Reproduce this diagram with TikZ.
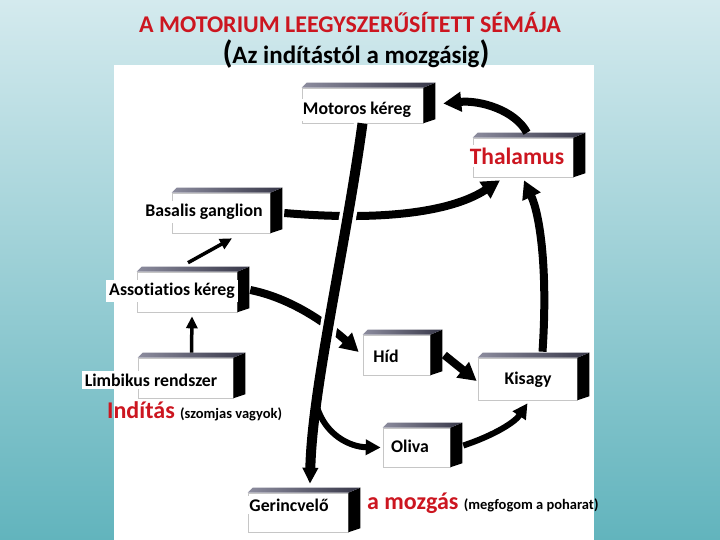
\documentclass[tikz,border=0pt]{standalone}
\usepackage{fontspec}
\setmainfont{Carlito}[Ligatures=NoCommon]
\usetikzlibrary{arrows.meta,calc}
\definecolor{bgtop}{RGB}{212,234,238}
\definecolor{bgbot}{RGB}{98,180,189}
\definecolor{tred}{RGB}{204,22,32}
\definecolor{topdark}{RGB}{55,55,72}
\definecolor{toplight}{RGB}{140,140,158}
\newcommand\boxfaces[1]{%
  \fill[black] (#1.north east) -- ++(12,-5) -- ($(#1.south east)+(12,-4)$) -- (#1.south east) -- cycle;
  \shade[left color=toplight, right color=topdark] (#1.north west) -- ($(#1.north west)+(5,-5)$) -- ($(#1.north east)+(12,-5)$) -- (#1.north east) -- cycle;
}
\tikzset{
  front/.style={draw=gray!45, line width=0.6pt, fill=white, inner sep=0pt},
  lab/.style={fill=white, inner sep=3pt, text=black, font=\fontsize{17.8}{20}\selectfont\bfseries},
  fatarrow/.style={line width=8pt, -{Triangle[length=18pt,width=19pt]}},
  midarrow/.style={line width=6pt, -{Triangle[length=15pt,width=15pt]}},
  thinarrow/.style={line width=3.5pt, -{Triangle[length=12pt,width=11pt]}},
}
\begin{document}
\begin{tikzpicture}[x=1pt,y=-1pt]
\useasboundingbox (0,0) rectangle (720,540);
\shade[top color=bgtop, bottom color=bgbot] (0,0) rectangle (720,540);
\fill[white] (114,65) rectangle (594,540);

% titles
\node[anchor=base, text=tred, font=\fontsize{24}{28}\selectfont\bfseries] (title) at (350,33) {A MOTORIUM LEEGYSZERŰSÍTETT SÉMÁJA};
\node[anchor=base, font=\fontsize{25}{29}\selectfont\bfseries] (sub) at (356,64) {{\fontsize{32}{32}\selectfont(}Az indítástól a mozgásig{\fontsize{32}{32}\selectfont)}};

% boxes (front faces)
\node[front, minimum width=121, minimum height=35] (mk) at (362.5,105.5) {};
\node[front, minimum width=100, minimum height=39] (thal) at (523,157.5) {};
\node[front, minimum width=98, minimum height=40] (bg) at (221,213) {};
\node[front, minimum width=100, minimum height=40] (as) at (187,292) {};
\node[front, minimum width=95, minimum height=40] (lb) at (185.5,378) {};
\node[front, minimum width=67, minimum height=40] (hid) at (396.5,355) {};
\node[front, minimum width=99, minimum height=42] (kis) at (527.5,379) {};
\node[front, minimum width=67, minimum height=39] (ol) at (416.5,447.5) {};
\node[front, minimum width=100, minimum height=39] (gv) at (298,512.5) {};
\boxfaces{mk}\boxfaces{thal}\boxfaces{bg}\boxfaces{as}\boxfaces{lb}
\boxfaces{hid}\boxfaces{kis}\boxfaces{ol}\boxfaces{gv}

% labels
\node[lab] (mkt) at (357,110) {Motoros kéreg};
\node[lab, text=tred, font=\fontsize{23.5}{26}\selectfont\bfseries] (thalt) at (517,156) {Thalamus};
\node[lab] (bgt) at (204,212) {Basalis ganglion};
\node[lab] (ast) at (172,291) {Assotiatios kéreg};
\node[lab] (lbt) at (151,380) {Limbikus rendszer};
\node[lab] (hidt) at (386,356) {Híd};
\node[lab] (kist) at (528,380) {Kisagy};
\node[lab] (olt) at (410,446) {Oliva};
\node[lab] (gvt) at (289,505) {Gerincvelő};

\node[anchor=base west, text=tred, font=\fontsize{24}{28}\selectfont\bfseries, inner sep=0pt] (ind) at (107,418) {Indítás {\fontsize{14.5}{16}\selectfont\color{black}(szomjas vagyok)}};
\node[anchor=base west, text=tred, font=\fontsize{24}{28}\selectfont\bfseries, inner sep=0pt] (moz) at (367,509) {a mozgás {\fontsize{14.5}{16}\selectfont\color{black}(megfogom a poharat)}};

% arrows
\draw[fatarrow] ($(thal.north)+(4,-5)$) .. controls (515,110) and (480,100) .. ($(mk.east)+(20,-2)$);
\draw[fatarrow] ($(bg.east)+(14,0)$) .. controls (390,222) and (455,210) .. ($(thal.south)+(-23,3)$);
\draw[fatarrow] ($(kis.north)+(15,-6)$) .. controls (548,270) and (540,215) .. ($(thal.south)+(1,3)$);
\draw[fatarrow] ($(as.east)+(13,-2)$) .. controls (290,298) and (325,322) .. ($(hid.west)+(-4,-3)$);
% main descending tract with white border
\draw[white, line width=17pt] (mk.south) .. controls (345,250) and (312,390) .. ($(gv.north)+(12,-9)$);
\draw[line width=10pt, -{Triangle[length=16pt,width=15pt]}] (mk.south) .. controls (345,250) and (312,390) .. coordinate[pos=0.75] (br) ($(gv.north)+(12,-9)$);
\draw[midarrow] (br) .. controls (325,435) and (350,447) .. ($(ol.west)+(-2,0)$);
\draw[fatarrow] ($(hid.east)+(14,0)$) -- ($(kis.west)+(-1,2)$);
\draw[midarrow] ($(ol.east)+(13,-2)$) .. controls (495,435) and (515,422) .. ($(kis.south)+(0,3)$);
\draw[thinarrow] ($(lb.north)+(6,-5)$) -- ($(as.south)+(5,4)$);
\draw[thinarrow] ($(as.north)+(1,-9)$) -- ($(bg.south)+(11,5)$);
\end{tikzpicture}
\end{document}
